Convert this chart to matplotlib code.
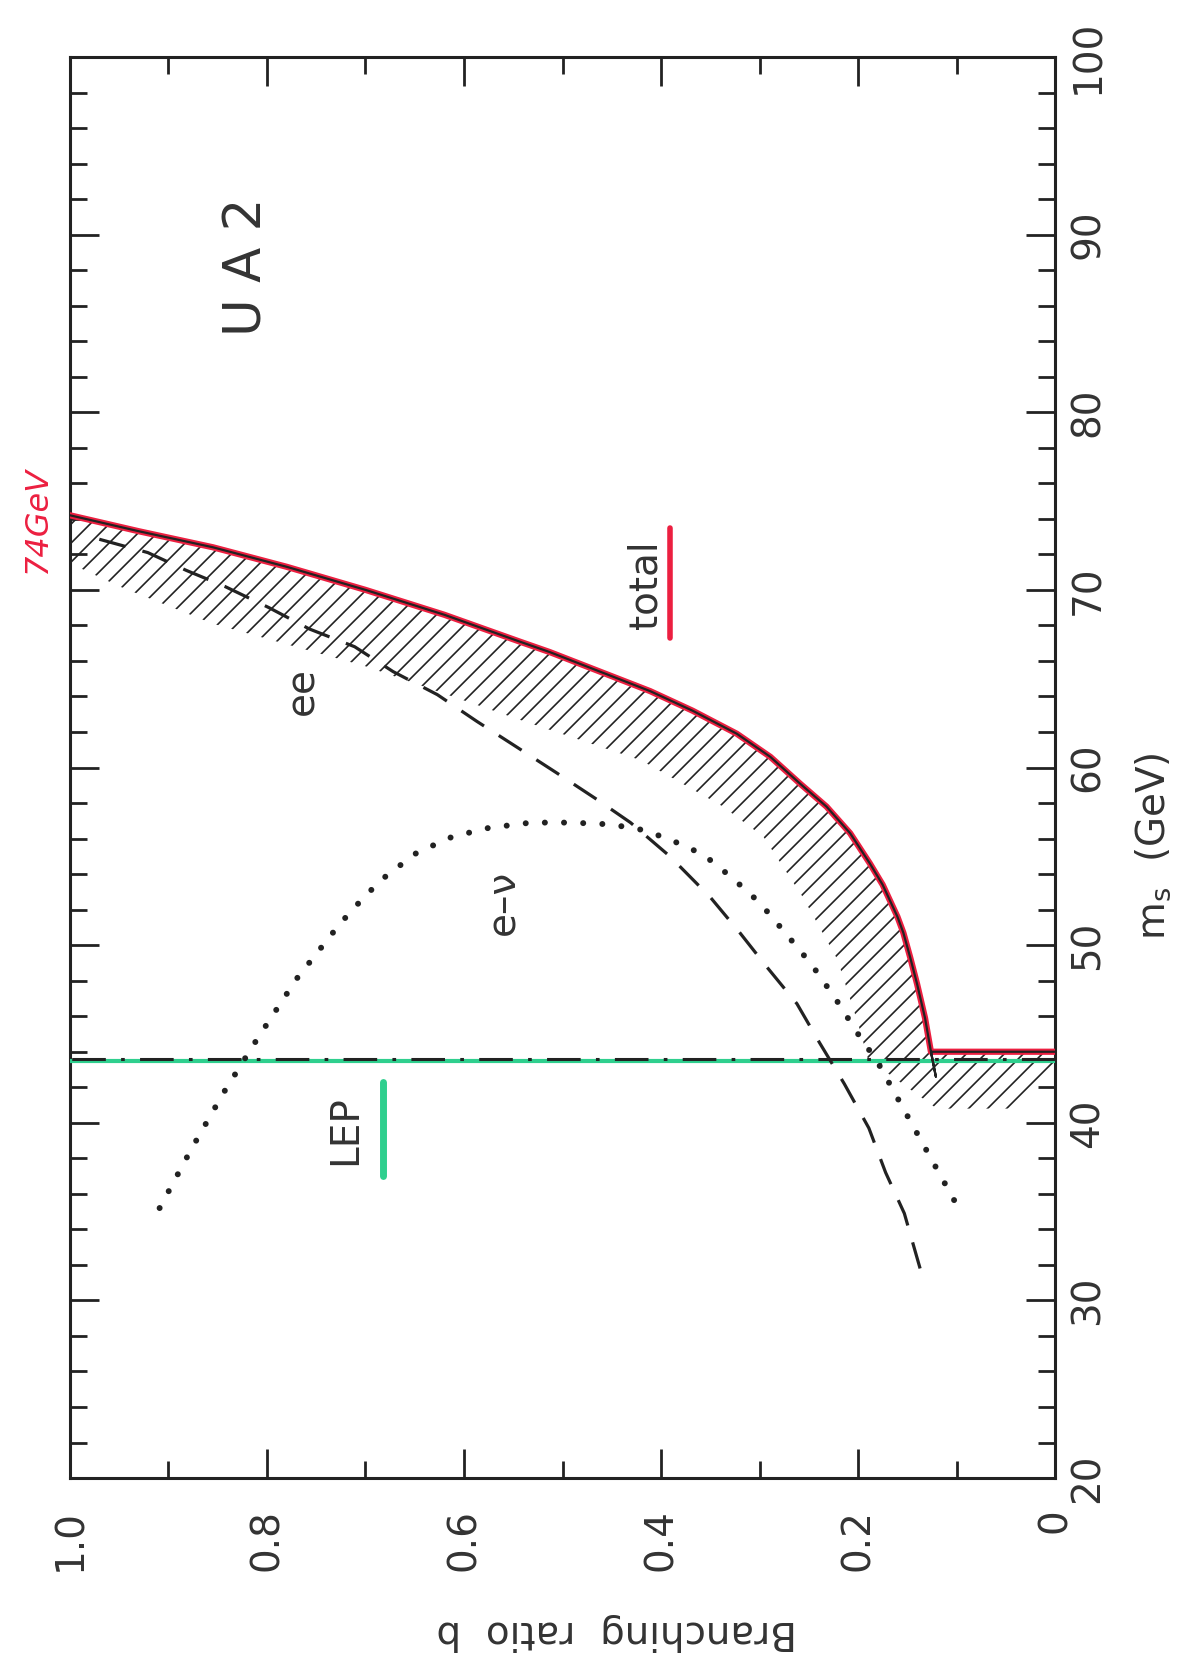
#!/usr/bin/env python3
"""UA2 branching ratio vs m_s -- scanned plot, drawn rotated 90 deg CCW"""

import matplotlib
matplotlib.use('Agg')
import matplotlib.pyplot as plt
from matplotlib.ticker import MultipleLocator
from matplotlib.collections import LineCollection
import numpy as np

plt.rcParams['font.family'] = ['DejaVu Sans']

# Data (b = branching ratio, m = m_s in GeV)
total_b = [1.0, 0.93, 0.855, 0.78, 0.70, 0.62, 0.544, 0.513, 0.462, 0.411, 0.368, 0.323, 0.289,
           0.259, 0.232, 0.208, 0.188, 0.175, 0.160, 0.154, 0.147, 0.140, 0.132, 0.126, 0.121]
total_m = [74.2, 73.3, 72.4, 71.3, 70.0, 68.6, 67.1, 66.5, 65.4, 64.3, 63.2, 61.9, 60.6,
           59.1, 57.8, 56.3, 54.6, 53.4, 51.6, 50.7, 49.3, 47.8, 45.9, 44.0, 42.6]

# horizontal step of the total limit at the LEP bound
step_b = [0.126, 0.0]
step_m = [44.0, 44.0]

# inner edge of the hatched band
inner_b = [1.0, 0.95, 0.855, 0.70, 0.544, 0.42, 0.337, 0.296, 0.256, 0.221, 0.20, 0.19]
inner_m = [71.5, 70.2, 68.1, 65.7, 62.7, 60.4, 57.8, 56.1, 52.7, 49.2, 45.6, 43.6]

# hatched patch below the LEP line
low_b = [0.0, 0.04, 0.12, 0.16]
low_m = [42.6, 40.8, 40.8, 42.4]

ee_b = [0.137, 0.153, 0.172, 0.189, 0.214, 0.239, 0.262, 0.293, 0.320, 0.350, 0.391, 0.431,
        0.465, 0.506, 0.545, 0.587, 0.627, 0.672, 0.711, 0.757, 0.798, 0.843, 0.882, 0.921, 0.98]
ee_m = [31.8, 34.9, 37.2, 39.7, 42.2, 44.5, 46.7, 48.8, 50.7, 52.7, 55.0, 56.9,
        58.2, 59.7, 61.1, 62.6, 64.1, 65.4, 66.8, 67.8, 69.0, 70.2, 71.1, 72.1, 73.0]

ev_b = [0.909, 0.877, 0.844, 0.809, 0.770, 0.726, 0.700, 0.679, 0.648, 0.612, 0.575, 0.532, 0.491, 0.451,
        0.420, 0.393, 0.357, 0.328, 0.300, 0.274, 0.247, 0.223, 0.200, 0.180, 0.159, 0.139, 0.119, 0.100]
ev_m = [35.2, 38.5, 41.7, 44.8, 48.1, 51.2, 52.8, 53.9, 55.2, 56.1, 56.6, 56.9, 56.9, 56.8,
        56.5, 56.0, 55.1, 53.8, 52.4, 50.7, 48.9, 47.0, 45.0, 43.4, 41.3, 39.3, 37.3, 35.4]

lep_m = 43.6

# hand-drawn marks
total_mark_b = [0.391, 0.391]
total_mark_m = [73.5, 67.3]
lep_mark_b = [0.682, 0.682]
lep_mark_m = [42.3, 37.0]

RED = '#ec1f40'
GREEN = '#2fcf8e'
INK = '#222222'
TXT = '#333333'

fig = plt.figure(figsize=(11.82, 16.66), dpi=100)
ax = fig.add_axes([0.0592, 0.1128, 0.8334, 0.853])
ax.set_xlim(1.0, 0.0)
ax.set_ylim(20, 100)

# hatched excluded region (45 deg lines clipped to the region)
poly_b = total_b[:-1] + step_b + low_b + inner_b[::-1]
poly_m = total_m[:-1] + step_m + low_m + inner_m[::-1]
region = ax.fill(poly_b, poly_m, facecolor='none', edgecolor='none', zorder=2)[0]
p0 = ax.transData.transform((0.0, 20))
p1 = ax.transData.transform((1.0, 100))
px_b = abs(p0[0] - p1[0])          # pixels per unit b
px_m = abs(p1[1] - p0[1]) / 80.0   # pixels per GeV
k = px_m / px_b
spacing = 19.0 / px_b
segs = [[(c, 20), (c - 80 * k, 100)] for c in np.arange(0.0, 1.0 + 80 * k, spacing)]
hatch = LineCollection(segs, colors=INK, linewidths=1.2, zorder=2)
ax.add_collection(hatch)
hatch.set_clip_path(region)

# total limit: red marker under black ink
ax.plot(total_b[:-1] + step_b[1:], total_m[:-1] + step_m[1:], color=RED, lw=4.5,
        solid_capstyle='round', solid_joinstyle='round', zorder=3)
ax.plot(total_b + [total_b[-2]] + step_b[1:], total_m + [total_m[-2]] + step_m[1:],
        color=INK, lw=1.6, zorder=4)

# ee (dashed) and e-nu (dotted)
ax.plot(ee_b, ee_m, color=INK, lw=2.3, linestyle=(0, (8.5, 5.5)), zorder=4)
ax.plot(ev_b, ev_m, color=INK, lw=4.3, linestyle=(0, (0.01, 3.2)),
        dash_capstyle='round', zorder=4)

# LEP bound
ax.plot([0.0, 1.0], [lep_m - 0.1, lep_m - 0.1], color=GREEN, lw=3.0, zorder=3)
ax.plot([0.0, 1.0], [lep_m, lep_m], color=INK, lw=2.2,
        linestyle=(0, (11, 5, 1.2, 5)), zorder=4)

# hand marks
ax.plot(total_mark_b, total_mark_m, color=RED, lw=4, solid_capstyle='round', zorder=5)
ax.plot(lep_mark_b, lep_mark_m, color=GREEN, lw=5, solid_capstyle='round', zorder=5)

# Labels inside
ax.text(0.820, 88.2, 'U A 2', rotation=90, fontsize=37, ha='center', va='center', color=TXT)
ax.text(0.764, 64.3, 'ee', rotation=90, fontsize=28, ha='center', va='center', color=TXT)
ax.text(0.560, 52.4, 'e–ν', rotation=90, fontsize=28, ha='center', va='center', color=TXT)
ax.text(0.416, 70.3, 'total', rotation=90, fontsize=28, ha='center', va='center', color=TXT)
ax.text(0.721, 39.6, 'LEP', rotation=90, fontsize=28, ha='center', va='center', color=TXT)
ax.text(1.033, 73.9, '74GeV', rotation=90, fontsize=23, ha='center', va='center',
        color=RED, style='italic', clip_on=False)

# Axes
ax.xaxis.set_minor_locator(MultipleLocator(0.1))
ax.yaxis.set_major_locator(MultipleLocator(10))
ax.yaxis.set_minor_locator(MultipleLocator(2))
ax.set_xticks([1.0, 0.8, 0.6, 0.4, 0.2, 0.0])
ax.set_xticklabels(['1.0', '0.8', '0.6', '0.4', '0.2', '0'])

ax.tick_params(which='both', direction='in', top=True, bottom=True, left=True, right=True,
               labelleft=False, labelright=True, labeltop=False, labelbottom=True,
               width=2, color=INK)
ax.tick_params(which='major', length=21)
ax.tick_params(which='minor', length=12)
ax.tick_params(axis='x', labelsize=28, labelrotation=90, pad=22, labelcolor=TXT)
ax.tick_params(axis='y', labelsize=28, labelrotation=90, pad=10, labelcolor=TXT)
for lbl in ax.get_yticklabels():
    lbl.set_va('center')

for s in ax.spines.values():
    s.set_linewidth(2.2)
    s.set_color(INK)

ax.text(1.0995, 0.445, r'm$_\mathrm{s}$  (GeV)', rotation=90, fontsize=28,
        ha='center', va='center', transform=ax.transAxes, color=TXT)
ax.text(0.555, -0.108, 'Branching  ratio  b', rotation=180, fontsize=28,
        ha='center', va='center', transform=ax.transAxes, color=TXT)

plt.savefig('out.png', dpi=100, facecolor='white')
plt.close()
